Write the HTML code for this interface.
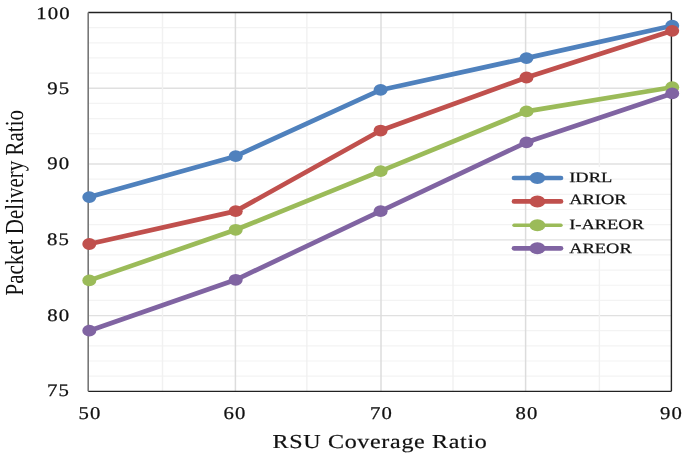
<!DOCTYPE html><html><head><meta charset="utf-8"><style>html,body{margin:0;padding:0;background:#fff;width:685px;height:457px;overflow:hidden}svg{display:block;filter:blur(0.4px)}text{font-family:"Liberation Serif",serif;fill:#111;text-rendering:geometricPrecision}</style></head><body>
<svg width="685" height="457" viewBox="0 0 685 457">
<line x1="88.2" x2="671.4" y1="376.15" y2="376.15" stroke="#f3f3f3" stroke-width="1.2"/>
<line x1="88.2" x2="671.4" y1="361.00" y2="361.00" stroke="#f3f3f3" stroke-width="1.2"/>
<line x1="88.2" x2="671.4" y1="345.84" y2="345.84" stroke="#f3f3f3" stroke-width="1.2"/>
<line x1="88.2" x2="671.4" y1="330.69" y2="330.69" stroke="#f3f3f3" stroke-width="1.2"/>
<line x1="88.2" x2="671.4" y1="300.39" y2="300.39" stroke="#f3f3f3" stroke-width="1.2"/>
<line x1="88.2" x2="671.4" y1="285.24" y2="285.24" stroke="#f3f3f3" stroke-width="1.2"/>
<line x1="88.2" x2="671.4" y1="270.08" y2="270.08" stroke="#f3f3f3" stroke-width="1.2"/>
<line x1="88.2" x2="671.4" y1="254.93" y2="254.93" stroke="#f3f3f3" stroke-width="1.2"/>
<line x1="88.2" x2="671.4" y1="224.63" y2="224.63" stroke="#f3f3f3" stroke-width="1.2"/>
<line x1="88.2" x2="671.4" y1="209.48" y2="209.48" stroke="#f3f3f3" stroke-width="1.2"/>
<line x1="88.2" x2="671.4" y1="194.32" y2="194.32" stroke="#f3f3f3" stroke-width="1.2"/>
<line x1="88.2" x2="671.4" y1="179.17" y2="179.17" stroke="#f3f3f3" stroke-width="1.2"/>
<line x1="88.2" x2="671.4" y1="148.87" y2="148.87" stroke="#f3f3f3" stroke-width="1.2"/>
<line x1="88.2" x2="671.4" y1="133.72" y2="133.72" stroke="#f3f3f3" stroke-width="1.2"/>
<line x1="88.2" x2="671.4" y1="118.56" y2="118.56" stroke="#f3f3f3" stroke-width="1.2"/>
<line x1="88.2" x2="671.4" y1="103.41" y2="103.41" stroke="#f3f3f3" stroke-width="1.2"/>
<line x1="88.2" x2="671.4" y1="73.11" y2="73.11" stroke="#f3f3f3" stroke-width="1.2"/>
<line x1="88.2" x2="671.4" y1="57.96" y2="57.96" stroke="#f3f3f3" stroke-width="1.2"/>
<line x1="88.2" x2="671.4" y1="42.80" y2="42.80" stroke="#f3f3f3" stroke-width="1.2"/>
<line x1="88.2" x2="671.4" y1="27.65" y2="27.65" stroke="#f3f3f3" stroke-width="1.2"/>
<line x1="88.2" x2="671.4" y1="315.54" y2="315.54" stroke="#e0e0e0" stroke-width="1.3"/>
<line x1="88.2" x2="671.4" y1="239.78" y2="239.78" stroke="#e0e0e0" stroke-width="1.3"/>
<line x1="88.2" x2="671.4" y1="164.02" y2="164.02" stroke="#e0e0e0" stroke-width="1.3"/>
<line x1="88.2" x2="671.4" y1="88.26" y2="88.26" stroke="#e0e0e0" stroke-width="1.3"/>
<line x1="162.50" x2="162.50" y1="12.5" y2="391.3" stroke="#f1f1f1" stroke-width="1.4"/>
<line x1="306.90" x2="306.90" y1="12.5" y2="391.3" stroke="#f1f1f1" stroke-width="1.4"/>
<line x1="453.00" x2="453.00" y1="12.5" y2="391.3" stroke="#f1f1f1" stroke-width="1.4"/>
<line x1="599.4" x2="599.4" y1="12.5" y2="167" stroke="#f1f1f1" stroke-width="1.4"/>
<line x1="599.4" x2="599.4" y1="259" y2="391.3" stroke="#f1f1f1" stroke-width="1.4"/>
<line x1="235.40" x2="235.40" y1="12.5" y2="391.3" stroke="#dcdcdc" stroke-width="1.5"/>
<line x1="381.00" x2="381.00" y1="12.5" y2="391.3" stroke="#dcdcdc" stroke-width="1.5"/>
<line x1="525.60" x2="525.60" y1="12.5" y2="391.3" stroke="#dcdcdc" stroke-width="1.5"/>
<line x1="88.2" x2="671.4" y1="12.5" y2="12.5" stroke="#222" stroke-width="1.3"/>
<line x1="671.4" x2="671.4" y1="12.5" y2="391.3" stroke="#222" stroke-width="1.4"/>
<line x1="88.2" x2="671.4" y1="391.3" y2="391.3" stroke="#222" stroke-width="1.2"/>
<line x1="88.2" x2="88.2" y1="12.5" y2="391.3" stroke="#777" stroke-width="1.6"/>
<polyline points="89.30,197.05 235.70,156.14 380.60,89.93 526.50,58.11 672.20,25.68" fill="none" stroke="#4f81bd" stroke-width="4.7" stroke-linejoin="round" stroke-linecap="round"/>
<ellipse cx="89.30" cy="197.05" rx="7.0" ry="5.9" fill="#4f81bd"/>
<ellipse cx="235.70" cy="156.14" rx="7.0" ry="5.9" fill="#4f81bd"/>
<ellipse cx="380.60" cy="89.93" rx="7.0" ry="5.9" fill="#4f81bd"/>
<ellipse cx="526.50" cy="58.11" rx="7.0" ry="5.9" fill="#4f81bd"/>
<ellipse cx="672.20" cy="25.68" rx="7.0" ry="5.9" fill="#4f81bd"/>
<polyline points="89.30,244.02 235.70,211.14 380.60,130.53 526.50,77.50 672.20,30.83" fill="none" stroke="#c0504d" stroke-width="4.7" stroke-linejoin="round" stroke-linecap="round"/>
<ellipse cx="89.30" cy="244.02" rx="7.0" ry="5.9" fill="#c0504d"/>
<ellipse cx="235.70" cy="211.14" rx="7.0" ry="5.9" fill="#c0504d"/>
<ellipse cx="380.60" cy="130.53" rx="7.0" ry="5.9" fill="#c0504d"/>
<ellipse cx="526.50" cy="77.50" rx="7.0" ry="5.9" fill="#c0504d"/>
<ellipse cx="672.20" cy="30.83" rx="7.0" ry="5.9" fill="#c0504d"/>
<polyline points="89.30,280.39 235.70,229.78 380.60,171.14 526.50,111.44 672.20,87.20" fill="none" stroke="#9bbb59" stroke-width="4.7" stroke-linejoin="round" stroke-linecap="round"/>
<ellipse cx="89.30" cy="280.39" rx="7.0" ry="5.9" fill="#9bbb59"/>
<ellipse cx="235.70" cy="229.78" rx="7.0" ry="5.9" fill="#9bbb59"/>
<ellipse cx="380.60" cy="171.14" rx="7.0" ry="5.9" fill="#9bbb59"/>
<ellipse cx="526.50" cy="111.44" rx="7.0" ry="5.9" fill="#9bbb59"/>
<ellipse cx="672.20" cy="87.20" rx="7.0" ry="5.9" fill="#9bbb59"/>
<polyline points="89.30,330.69 235.70,279.78 380.60,211.14 526.50,142.35 672.20,93.41" fill="none" stroke="#8064a2" stroke-width="4.7" stroke-linejoin="round" stroke-linecap="round"/>
<ellipse cx="89.30" cy="330.69" rx="7.0" ry="5.9" fill="#8064a2"/>
<ellipse cx="235.70" cy="279.78" rx="7.0" ry="5.9" fill="#8064a2"/>
<ellipse cx="380.60" cy="211.14" rx="7.0" ry="5.9" fill="#8064a2"/>
<ellipse cx="526.50" cy="142.35" rx="7.0" ry="5.9" fill="#8064a2"/>
<ellipse cx="672.20" cy="93.41" rx="7.0" ry="5.9" fill="#8064a2"/>
<text transform="translate(70.10,396.30) scale(1.18,1)" text-anchor="end" font-size="17.6" letter-spacing="1.0" stroke="#111" stroke-width="0.25">75</text>
<text transform="translate(70.40,320.94) scale(1.18,1)" text-anchor="end" font-size="17.6" letter-spacing="1.0" stroke="#111" stroke-width="0.25">80</text>
<text transform="translate(70.10,245.18) scale(1.18,1)" text-anchor="end" font-size="17.6" letter-spacing="1.0" stroke="#111" stroke-width="0.25">85</text>
<text transform="translate(70.40,169.32) scale(1.18,1)" text-anchor="end" font-size="17.6" letter-spacing="1.0" stroke="#111" stroke-width="0.25">90</text>
<text transform="translate(70.30,94.41) scale(1.18,1)" text-anchor="end" font-size="17.6" letter-spacing="1.0" stroke="#111" stroke-width="0.25">95</text>
<text transform="translate(70.90,19.35) scale(1.18,1)" text-anchor="end" font-size="17.6" letter-spacing="1.0" stroke="#111" stroke-width="0.25">100</text>
<text transform="translate(90.10,418.9) scale(1.15,1)" text-anchor="middle" font-size="18" letter-spacing="1.0" stroke="#111" stroke-width="0.25">50</text>
<text transform="translate(234.90,418.9) scale(1.15,1)" text-anchor="middle" font-size="18" letter-spacing="1.0" stroke="#111" stroke-width="0.25">60</text>
<text transform="translate(381.50,418.9) scale(1.15,1)" text-anchor="middle" font-size="18" letter-spacing="1.0" stroke="#111" stroke-width="0.25">70</text>
<text transform="translate(526.90,418.9) scale(1.15,1)" text-anchor="middle" font-size="18" letter-spacing="1.0" stroke="#111" stroke-width="0.25">80</text>
<text transform="translate(671.60,418.9) scale(1.15,1)" text-anchor="middle" font-size="18" letter-spacing="1.0" stroke="#111" stroke-width="0.25">90</text>
<text transform="translate(380.0,447.7) scale(1.215,1)" text-anchor="middle" font-size="19.8" letter-spacing="0.55" stroke="#111" stroke-width="0.2">RSU Coverage Ratio</text>
<text transform="translate(23.4,202.7) scale(1.24,1) rotate(-90)" text-anchor="middle" font-size="21">Packet Delivery Ratio</text>
<line x1="514" x2="561" y1="178.0" y2="178.0" stroke="#4f81bd" stroke-width="4.7" stroke-linecap="round"/>
<ellipse cx="537.4" cy="178.0" rx="7.9" ry="6.0" fill="#4f81bd"/>
<text transform="translate(569.2,181.9) scale(1.29,1)" font-size="14.3" stroke="#111" stroke-width="0.25">IDRL</text>
<line x1="514" x2="561" y1="201.4" y2="201.4" stroke="#c0504d" stroke-width="4.7" stroke-linecap="round"/>
<ellipse cx="537.4" cy="201.4" rx="7.9" ry="6.0" fill="#c0504d"/>
<text transform="translate(569.2,204.0) scale(1.29,1)" font-size="14.3" stroke="#111" stroke-width="0.25">ARIOR</text>
<line x1="514" x2="561" y1="225.2" y2="225.2" stroke="#9bbb59" stroke-width="3.4" stroke-linecap="round"/>
<ellipse cx="537.4" cy="225.2" rx="7.9" ry="6.0" fill="#9bbb59"/>
<text transform="translate(569.2,229.0) scale(1.29,1)" font-size="14.3" stroke="#111" stroke-width="0.25">I-AREOR</text>
<line x1="514" x2="561" y1="248.3" y2="248.3" stroke="#8064a2" stroke-width="4.7" stroke-linecap="round"/>
<ellipse cx="537.4" cy="248.3" rx="7.9" ry="6.0" fill="#8064a2"/>
<text transform="translate(569.2,253.2) scale(1.29,1)" font-size="14.3" stroke="#111" stroke-width="0.25">AREOR</text>
</svg></body></html>
